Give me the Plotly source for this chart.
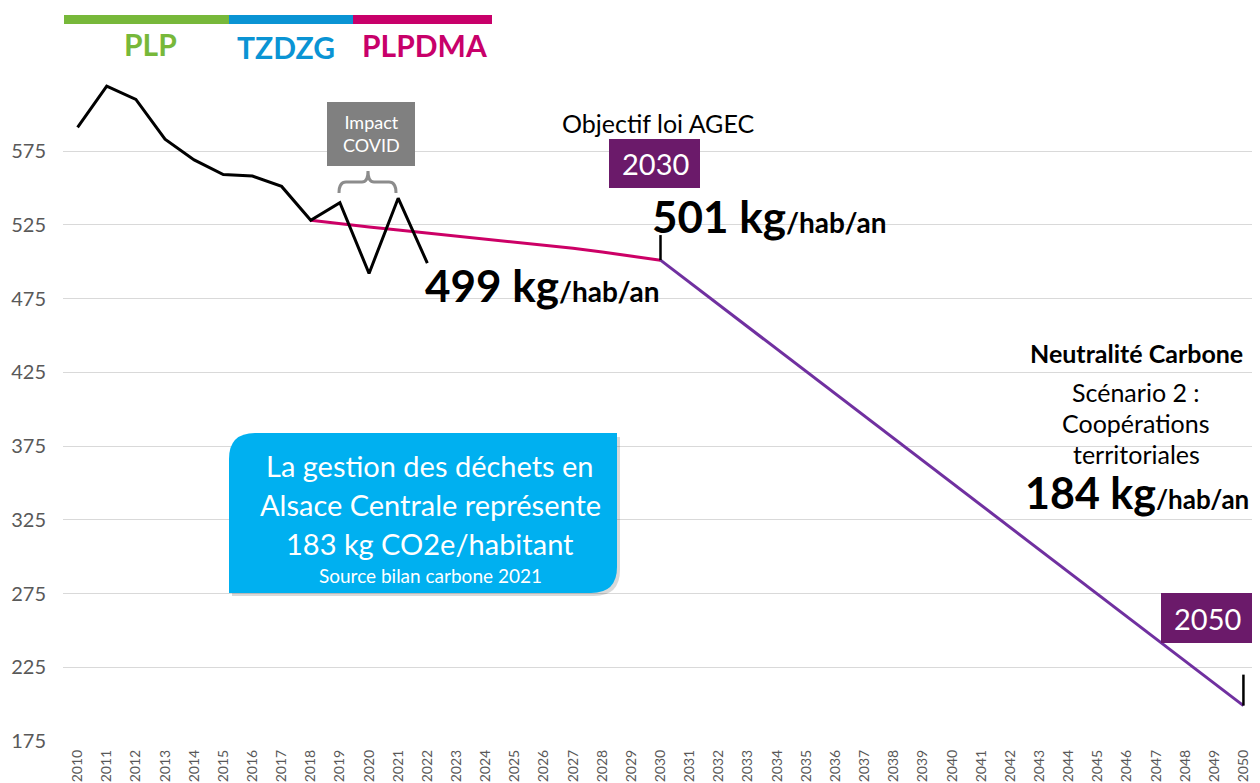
import plotly.graph_objects as go

# historical waste per inhabitant (kg/hab/an)
years_hist = list(range(2010, 2023))
waste_hist = [591, 619, 610, 583, 569, 559, 558, 551, 528, 540, 492, 543, 499]

# PLPDMA trajectory towards the AGEC target
years_plpdma = list(range(2018, 2031))
waste_plpdma = [528, 525.5, 523.5, 521.5, 519.5, 517, 515.5, 513.5, 511.5, 509, 506.5, 504, 501]

# carbon neutrality scenario 2
years_scen = [2030, 2050]
waste_scen = [501, 199]

y_ticks = [175, 225, 275, 325, 375, 425, 475, 525, 575]
x_ticks = list(range(2010, 2051))

FONT = "Lato"
OFF = 8  # page body margin
L, T, W, H = 63, 8, 1195, 733  # plot area in page pixels


def px(p):
    return (p - L) / W


def py(p):
    return 1 - (p - T) / H


fig = go.Figure()
fig.add_trace(go.Scatter(x=years_plpdma, y=waste_plpdma, mode="lines",
                         line=dict(color="#CC0066", width=3), hoverinfo="skip"))
fig.add_trace(go.Scatter(x=years_scen, y=waste_scen, mode="lines",
                         line=dict(color="#7030A0", width=3), hoverinfo="skip"))
fig.add_trace(go.Scatter(x=years_hist, y=waste_hist, mode="lines",
                         line=dict(color="black", width=3), hoverinfo="skip"))

shapes = []
# programme bars on top
for x0, x1, col in [(64, 229, "#77B83A"), (229, 353, "#0A94D4"), (353, 492, "#C8006A")]:
    shapes.append(dict(type="rect", xref="paper", yref="paper", x0=px(x0), x1=px(x1),
                       y0=py(24), y1=py(15), fillcolor=col, line_width=0, layer="above"))

# Impact COVID box + brace
shapes.append(dict(type="rect", xref="paper", yref="paper", x0=px(327), x1=px(415),
                   y0=py(166), y1=py(102), fillcolor="#808080", line_width=0))
brace = (f"M {px(339)},{py(193)} Q {px(339)},{py(182)} {px(346)},{py(182)} "
         f"L {px(362)},{py(182)} Q {px(368)},{py(182)} {px(368)},{py(171)} "
         f"Q {px(368)},{py(182)} {px(374)},{py(182)} "
         f"L {px(389)},{py(182)} Q {px(396)},{py(182)} {px(396)},{py(193)}")
shapes.append(dict(type="path", xref="paper", yref="paper", path=brace,
                   line=dict(color="#8C8C8C", width=3)))

# year boxes
shapes.append(dict(type="rect", xref="paper", yref="paper", x0=px(609), x1=px(700),
                   y0=py(188), y1=py(139), fillcolor="#6B1A6A", line_width=0))
shapes.append(dict(type="rect", xref="paper", yref="paper", x0=px(1161), x1=px(1252),
                   y0=py(643), y1=py(593), fillcolor="#6B1A6A", line_width=0))

# target ticks
shapes.append(dict(type="line", xref="x", yref="y", x0=2030, x1=2030, y0=waste_scen[0], y1=518,
                   line=dict(color="black", width=2.5)))
shapes.append(dict(type="line", xref="x", yref="y", x0=2050, x1=2050, y0=waste_scen[1], y1=220,
                   line=dict(color="black", width=2.5)))


def rounded_box(x0, y0, x1, y1, r):
    return (f"M {px(x0 + r)},{py(y0)} L {px(x1)},{py(y0)} L {px(x1)},{py(y1 - r)} "
            f"Q {px(x1)},{py(y1)} {px(x1 - r)},{py(y1)} L {px(x0)},{py(y1)} "
            f"L {px(x0)},{py(y0 + r)} Q {px(x0)},{py(y0)} {px(x0 + r)},{py(y0)} Z")


shapes.append(dict(type="path", xref="paper", yref="paper", path=rounded_box(232, 437, 620, 596, 26),
                   fillcolor="rgba(0,0,0,0.15)", line_width=0))
shapes.append(dict(type="path", xref="paper", yref="paper", path=rounded_box(229, 433, 617, 593, 26),
                   fillcolor="#00B0F0", line_width=0))

ann = []


def add(text, x, y, size, color="black", xanchor="center", bold=False):
    if bold:
        text = f"<b>{text}</b>"
    ann.append(dict(text=text, x=px(x), y=py(y), xref="paper", yref="paper", showarrow=False,
                    xanchor=xanchor, yanchor="middle", borderpad=0,
                    font=dict(family=FONT, size=size, color=color)))


add("PLP", 150, 44, 30, "#77B83A", bold=True)
add("TZDZG", 286, 47, 30, "#0A94D4", bold=True)
add("PLPDMA", 424, 45, 30, "#C8006A", bold=True)
add("Impact<br>COVID", 371, 134, 18, "white")
add("Objectif loi AGEC", 658, 123, 25)
add("2030", 655, 164, 29, "white")
add("2050", 1207, 618, 29, "white")
add("<b>501 kg<span style='font-size:28px'>/hab/an</span></b>", 651, 216, 44, xanchor="left")
add("<b>499 kg<span style='font-size:28px'>/hab/an</span></b>", 424, 285, 44, xanchor="left")
add("<b>184 kg<span style='font-size:26px'>/hab/an</span></b>", 1024, 492, 43, xanchor="left")
add("Neutralité Carbone", 1136, 353, 25, bold=True)
add("Scénario 2 :", 1136, 392, 25)
add("Coopérations", 1136, 423, 25)
add("territoriales", 1136, 454, 25)
add("La gestion des déchets en", 430, 465, 29, "white")
add("Alsace Centrale représente", 430, 504, 29, "white")
add("183 kg CO2e/habitant", 430, 543, 29, "white")
add("Source bilan carbone 2021", 430, 575, 19, "white")

fig.update_layout(
    width=1260 - OFF, height=783 - OFF,
    margin=dict(l=L - OFF, r=1260 - L - W, t=T - OFF, b=783 - T - H),
    plot_bgcolor="white", paper_bgcolor="white",
    showlegend=False,
    shapes=shapes, annotations=ann,
    font=dict(family=FONT),
)
fig.update_xaxes(range=[2009.5, 2050.5], tickvals=x_ticks, ticktext=[str(v) for v in x_ticks],
                 tickangle=-90, tickfont=dict(size=14, color="#595959"), showgrid=False,
                 zeroline=False, showline=False, ticks="", automargin=False, ticklabelstandoff=5)
fig.update_yaxes(range=[175, 175 + H / 1.475], tickvals=y_ticks, tickfont=dict(size=20, color="#595959"),
                 gridcolor="#D9D9D9", gridwidth=1, zeroline=False, showline=False, ticks="",
                 ticklabelstandoff=16, automargin=False)

fig.write_html("out.html")
